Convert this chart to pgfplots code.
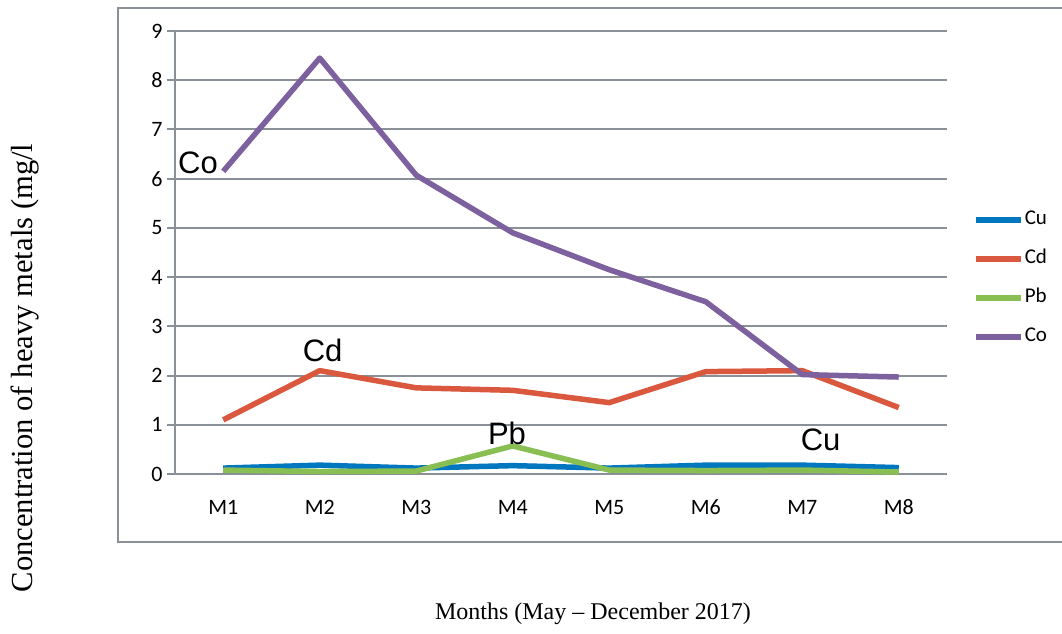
\documentclass[border=0pt]{standalone}
\usepackage{pgfplots}
\pgfplotsset{compat=1.18}
\usepackage{fontspec}
\setmainfont{Liberation Serif}
\newfontfamily\carlito{Carlito}
\newfontfamily\arial{Liberation Sans}
\definecolor{gridgray}{RGB}{137,144,152}
\definecolor{cuc}{RGB}{0,119,190}
\definecolor{cdc}{RGB}{218,88,62}
\definecolor{pbc}{RGB}{137,190,82}
\definecolor{coc}{RGB}{125,96,158}
\begin{document}
\begin{tikzpicture}[x=1pt,y=1pt]
\useasboundingbox (0,0) rectangle (1062,633);
\draw[gridgray, line width=2.5pt] (1064,625) -- (118,625) -- (118,91) -- (1064,91);
\node[rotate=90, font=\fontsize{30.6}{34}\selectfont] at (25,265) {Concentration of heavy metals (mg/l};
\node[font=\fontsize{24}{28}\selectfont] at (593,19) {Months (May -- December 2017)};
\begin{axis}[
  at={(175pt,159pt)}, anchor=origin,
  scale only axis, width=772pt, height=443pt,
  xmin=0.5, xmax=8.5, ymin=0, ymax=9,
  axis lines=left, axis line style={-, gridgray, line width=2.5pt},
  xtick={1,...,8}, xticklabels={M1,M2,M3,M4,M5,M6,M7,M8},
  minor xtick={1.5,2.5,...,8.5},
  ytick={0,1,...,9},
  tick style={gridgray, line width=2pt},
  major tick length=8pt, minor tick length=8pt,
  xtick style={draw=none},
  minor x tick style={gridgray, line width=2pt},
  tick align=outside,
  ymajorgrids, grid style={gridgray, line width=2pt},
  /pgf/number format/assume math mode=true,
  ticklabel style={font=\carlito\fontsize{22}{24}\selectfont},
  yticklabel style={xshift=-1pt},
  xticklabel style={yshift=-14pt, text height=15pt, text depth=0pt},
  clip=false,
  legend style={at={(1.034,0.441)}, anchor=west, draw=none, fill=none,
    inner sep=0pt, outer sep=0pt, row sep=24pt,
    nodes={inner sep=0pt, text height=12pt, text depth=3pt},
    font=\carlito\fontsize{21}{24}\selectfont},
  legend cell align=left,
  legend image code/.code={\draw[#1, line width=5.5pt] (0pt,0pt) -- (45pt,0pt);},
  /tikz/every odd column/.append style={column sep=1pt},
]
\addplot[cuc, line width=5.5pt, line join=round] coordinates {(1,0.12) (2,0.18) (3,0.12) (4,0.17) (5,0.12) (6,0.18) (7,0.18) (8,0.13)};
\addlegendentry{Cu}
\addplot[cdc, line width=5.5pt, line join=round] coordinates {(1,1.1) (2,2.1) (3,1.75) (4,1.7) (5,1.45) (6,2.08) (7,2.1) (8,1.35)};
\addlegendentry{Cd}
\addplot[pbc, line width=5.5pt, line join=round] coordinates {(1,0.08) (2,0.05) (3,0.06) (4,0.57) (5,0.08) (6,0.07) (7,0.08) (8,0.04)};
\addlegendentry{Pb}
\addplot[coc, line width=5.5pt, line join=round] coordinates {(1,6.15) (2,8.45) (3,6.07) (4,4.9) (5,4.15) (6,3.5) (7,2.02) (8,1.97)};
\addlegendentry{Co}
\node[font=\arial\fontsize{31}{34}\selectfont] at (axis cs:0.738,6.32) {Co};
\node[font=\arial\fontsize{31}{34}\selectfont] at (axis cs:2.03,2.52) {Cd};
\node[font=\arial\fontsize{31}{34}\selectfont] at (axis cs:3.94,0.83) {Pb};
\node[font=\arial\fontsize{31}{34}\selectfont] at (axis cs:7.19,0.69) {Cu};
\end{axis}
\end{tikzpicture}
\end{document}
